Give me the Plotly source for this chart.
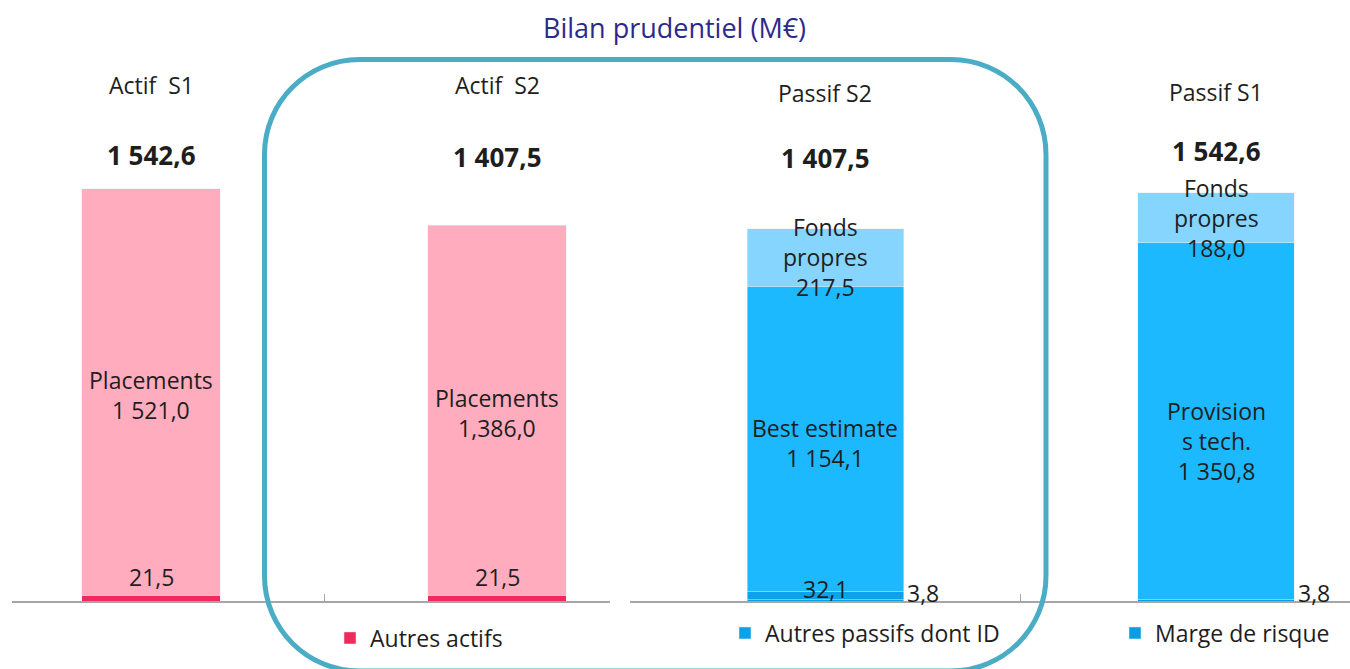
import plotly.graph_objects as go

W, H = 1350, 669

# --- données (M€) ---
actif_cats = ["Actif\u00a0 S1", "Actif\u00a0 S2"]
placements = [1521.0, 1386.0]
autres_actifs = [21.5, 21.5]
actif_totals = ["1 542,6", "1 407,5"]
placements_text = ["Placements<br>1 521,0", "Placements<br>1,386,0"]
autres_actifs_text = ["21,5", "21,5"]

passif_cats = ["Passif S2", "Passif S1"]
marge_risque = [3.8, 3.8]
autres_passifs = [32.1, 0.0]
provisions = [1154.1, 1350.8]
fonds_propres = [217.5, 188.0]
passif_totals = ["1 407,5", "1 542,6"]
provisions_text = ["Best estimate<br>1 154,1", "Provision<br>s tech.<br>1 350,8"]
fonds_propres_text = ["Fonds<br>propres<br>217,5", "Fonds<br>propres<br>188,0"]
autres_passifs_text = ["32,1", ""]
marge_text = ["3,8", "3,8"]

PINK = "#FFADBE"
CRIMSON = "#F02A5C"
BLUE = "#1DB9FF"
LIGHT = "#85D5FF"
DARK = "#0AA3EA"
MARGE = "#0A9FE4"
TEAL = "#4BACC6"
TXT = "#1E1E1E"
FONT = "Open Sans"


def px(x):
    return x / W


def py(y):
    return 1 - y / H


fig = go.Figure()

# actif (gauche)
fig.add_trace(go.Bar(x=actif_cats, y=autres_actifs, name="Autres actifs", marker_color=CRIMSON,
                     width=0.4, xaxis="x", yaxis="y", legend="legend"))
fig.add_trace(go.Bar(x=actif_cats, y=placements, name="Placements", marker_color=PINK,
                     width=0.4, xaxis="x", yaxis="y", showlegend=False))

# passif (droite)
fig.add_trace(go.Bar(x=passif_cats, y=marge_risque, name="Marge de risque", marker_color=MARGE,
                     width=0.4, xaxis="x2", yaxis="y2", legend="legend3"))
fig.add_trace(go.Bar(x=passif_cats, y=autres_passifs, name="Autres passifs dont ID", marker_color=DARK,
                     width=0.4, xaxis="x2", yaxis="y2", legend="legend2"))
fig.add_trace(go.Bar(x=passif_cats, y=provisions, name="Provisions", marker_color=BLUE,
                     width=0.4, xaxis="x2", yaxis="y2", showlegend=False))
fig.add_trace(go.Bar(x=passif_cats, y=fonds_propres, name="Fonds propres", marker_color=LIGHT,
                     width=0.4, xaxis="x2", yaxis="y2", showlegend=False))

ann = []
lab = dict(size=23, color=TXT, family=FONT)
bold = dict(size=26, color=TXT, family=FONT)
for i, c in enumerate(actif_cats):
    ann.append(dict(x=c, xref="x", y=autres_actifs[i] + placements[i] / 2, yref="y",
                    text=placements_text[i], showarrow=False, font=lab, yshift=-3))
    ann.append(dict(x=c, xref="x", y=autres_actifs[i], yref="y", yanchor="bottom",
                    text=autres_actifs_text[i], showarrow=False, font=lab))
    ann.append(dict(x=c, xref="x", y=py([155, 157][i]), yref="paper", yanchor="middle",
                    text="<b>%s</b>" % actif_totals[i], showarrow=False, font=bold))
    ann.append(dict(x=c, xref="x", y=py(85), yref="paper", yanchor="middle", text=c,
                    showarrow=False, font=lab))

for i, c in enumerate(passif_cats):
    base = marge_risque[i] + autres_passifs[i]
    ann.append(dict(x=c, xref="x2", y=base + provisions[i] / 2, yref="y2",
                    text=provisions_text[i], showarrow=False, font=lab, yshift=[-4, -20][i]))
    ann.append(dict(x=c, xref="x2", y=base + provisions[i] + fonds_propres[i] / 2, yref="y2",
                    text=fonds_propres_text[i], showarrow=False, font=lab))
    if autres_passifs_text[i]:
        ann.append(dict(x=c, xref="x2", y=base, yref="y2", yanchor="middle", yshift=3,
                        text=autres_passifs_text[i], showarrow=False, font=lab))
    ann.append(dict(x=c, xref="x2", y=0, yref="y2", yanchor="middle", yshift=8, xshift=98,
                    text=marge_text[i], showarrow=False, font=lab))
    ann.append(dict(x=c, xref="x2", y=py([158, 151][i]), yref="paper", yanchor="middle",
                    text="<b>%s</b>" % passif_totals[i], showarrow=False, font=bold))
    ann.append(dict(x=c, xref="x2", y=py([93, 92][i]), yref="paper", yanchor="middle", text=c,
                    showarrow=False, font=lab))

ann.append(dict(x=px(674), xref="paper", xanchor="center", y=py(27), yref="paper", yanchor="middle",
                text="Bilan prudentiel (M€)", showarrow=False,
                font=dict(size=27, color="#2B2A8C", family=FONT)))

# cadre arrondi autour du S2
L, R, T, B, r = 264.5, 1046, 59.5, 671, 95
c = 0.5523 * r
pts = [("M", [(L + r, T)]), ("L", [(R - r, T)]),
       ("C", [(R - r + c, T), (R, T + r - c), (R, T + r)]), ("L", [(R, B - r)]),
       ("C", [(R, B - r + c), (R - r + c, B), (R - r, B)]), ("L", [(L + r, B)]),
       ("C", [(L + r - c, B), (L, B - r + c), (L, B - r)]), ("L", [(L, T + r)]),
       ("C", [(L, T + r - c), (L + r - c, T), (L + r, T)])]
path = " ".join(cmd + " ".join("%.5f,%.5f" % (px(a), py(b)) for a, b in p) for cmd, p in pts) + " Z"

axis_x = dict(type="category", showline=True, linecolor="#A6A6A6", linewidth=2, ticks="inside",
              tickson="boundaries", ticklen=7, tickwidth=1, tickcolor="#A6A6A6",
              showticklabels=False, showgrid=False, zeroline=False, fixedrange=True)
ydom = [py(601), 1]

leg = dict(font=dict(size=23, color=TXT, family=FONT), bgcolor="rgba(0,0,0,0)",
           xanchor="left", yanchor="middle", orientation="h")

fig.update_layout(
    width=W, height=H,
    margin=dict(l=0, r=0, t=0, b=0, pad=0, autoexpand=False),
    paper_bgcolor="white", plot_bgcolor="white",
    barmode="stack",
    xaxis=dict(axis_x, domain=[px(12), px(610)], range=[(12 - 151) / 346, (610 - 151) / 346], anchor="y"),
    yaxis=dict(domain=ydom, range=[0, 2250], visible=False, anchor="x"),
    xaxis2=dict(axis_x, domain=[px(630), 1], range=[-0.5, (1350 - 825) / 391], anchor="y2"),
    yaxis2=dict(domain=ydom, range=[0, 2272], visible=False, anchor="x2"),
    legend=dict(leg, x=px(330), y=py(638)),
    legend2=dict(leg, x=px(725), y=py(633)),
    legend3=dict(leg, x=px(1115), y=py(633)),
    annotations=ann,
    shapes=[dict(type="path", path=path, xref="paper", yref="paper",
                 line=dict(color=TEAL, width=5), layer="above")],
    hovermode=False,
)

fig.write_html("out.html", config={"displayModeBar": False},
               post_script="document.body.style.margin='0';")
